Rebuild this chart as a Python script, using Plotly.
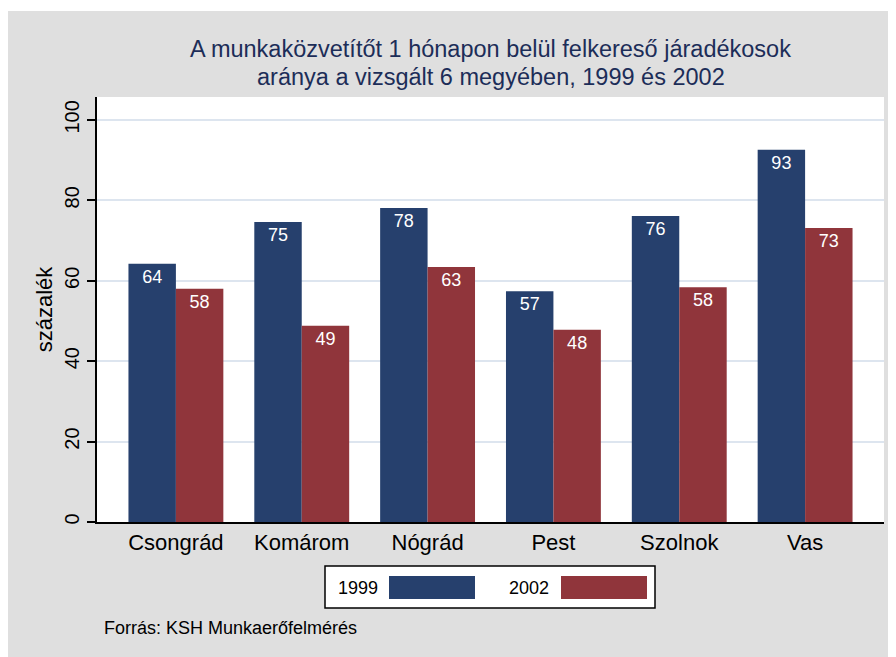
import plotly.graph_objects as go

categories = ["Csongrád", "Komárom", "Nógrád", "Pest", "Szolnok", "Vas"]
values_1999 = [64.2, 74.6, 78.1, 57.4, 76.1, 92.6]
values_2002 = [58.0, 48.8, 63.4, 47.8, 58.4, 73.1]
labels_1999 = ["64", "75", "78", "57", "76", "93"]
labels_2002 = ["58", "49", "63", "48", "58", "73"]
series_names = ["1999", "2002"]
y_ticks = [0, 20, 40, 60, 80, 100]

title_lines = ["A munkaközvetítőt 1 hónapon belül felkereső járadékosok",
               "aránya a vizsgált 6 megyében, 1999 és 2002"]
y_title = "százalék"
source_text = "Forrás: KSH Munkaerőfelmérés"

BLUE = "#26406d"
RED = "#90353b"
GRAY = "#dfdfdf"
FONT = "Liberation Sans, Arial, sans-serif"

# page offset produced by the default 8px body margin
OFF = 8
PAGE_W, PAGE_H = 896, 657
W, H = PAGE_W - OFF, PAGE_H - OFF
# plot area in page pixels
PL, PR, PT, PB = 97, 884, 97, 522
L, R, T, B = PL - OFF, PAGE_W - PR, PT - OFF, PAGE_H - PB
PW = PR - PL
PH = PB - PT


def px(x):
    return (x - PL) / PW


def py(y):
    return (PB - y) / PH


fig = go.Figure()
for name, vals, labs, col in [(series_names[0], values_1999, labels_1999, BLUE),
                              (series_names[1], values_2002, labels_2002, RED)]:
    fig.add_trace(go.Bar(
        x=list(range(len(categories))), y=vals, name=name,
        marker=dict(color=col, line=dict(width=0)),
        text=labs, textposition="inside", insidetextanchor="end",
        textangle=0, constraintext="none",
        textfont=dict(color="white", size=18, family=FONT),
        showlegend=False,
    ))

shapes = [
    # thin white strip at the very top
    dict(type="rect", xref="paper", yref="paper", x0=px(0), x1=px(PAGE_W + 2),
         y0=py(11), y1=py(0), fillcolor="white", line=dict(width=0)),
    # legend box
    dict(type="rect", xref="paper", yref="paper", x0=px(325), x1=px(655),
         y0=py(608), y1=py(566), fillcolor="white", line=dict(color="black", width=1.5)),
    dict(type="rect", xref="paper", yref="paper", x0=px(389), x1=px(475),
         y0=py(599), y1=py(576), fillcolor=BLUE, line=dict(width=0)),
    dict(type="rect", xref="paper", yref="paper", x0=px(561), x1=px(647),
         y0=py(599), y1=py(576), fillcolor=RED, line=dict(width=0)),
]

annotations = [
    dict(text=title_lines[0], xref="paper", yref="paper", x=px(490.5), y=py(49),
         xanchor="center", yanchor="middle", showarrow=False,
         font=dict(size=23.5, color="#1c2d58", family=FONT)),
    dict(text=title_lines[1], xref="paper", yref="paper", x=px(490.5), y=py(77),
         xanchor="center", yanchor="middle", showarrow=False,
         font=dict(size=23.5, color="#1c2d58", family=FONT)),
    dict(text=series_names[0], xref="paper", yref="paper", x=px(336), y=py(588),
         xanchor="left", yanchor="middle", showarrow=False,
         font=dict(size=18, color="black", family=FONT)),
    dict(text=series_names[1], xref="paper", yref="paper", x=px(507), y=py(588),
         xanchor="left", yanchor="middle", showarrow=False,
         font=dict(size=18, color="black", family=FONT)),
    dict(text=source_text, xref="paper", yref="paper", x=px(102), y=py(628),
         xanchor="left", yanchor="middle", showarrow=False,
         font=dict(size=18, color="black", family=FONT)),
]

fig.update_layout(
    width=W, height=H,
    margin=dict(l=L, r=R, t=T, b=B),
    paper_bgcolor=GRAY, plot_bgcolor="white",
    font=dict(family=FONT, color="black"),
    barmode="group", bargap=0.246, bargroupgap=0,
    shapes=shapes, annotations=annotations,
    xaxis=dict(
        range=[-0.627, 5.627], tickmode="array",
        tickvals=list(range(len(categories))), ticktext=categories,
        showline=True, linecolor="black", linewidth=1.5,
        ticks="", showgrid=False, zeroline=False,
        tickfont=dict(size=22, color="black", family=FONT),
    ),
    yaxis=dict(
        range=[0, 105.7], tickvals=y_ticks, tickangle=-90,
        ticks="outside", ticklen=8, tickcolor="black", tickwidth=1.5,
        showline=True, linecolor="black", linewidth=1.5,
        showgrid=True, gridcolor="#dde5ef", gridwidth=1.5, zeroline=False,
        tickfont=dict(size=20, color="black", family=FONT),
        title=dict(text=y_title, font=dict(size=22, color="black", family=FONT), standoff=3),
    ),
)

fig.write_html("out.html")
